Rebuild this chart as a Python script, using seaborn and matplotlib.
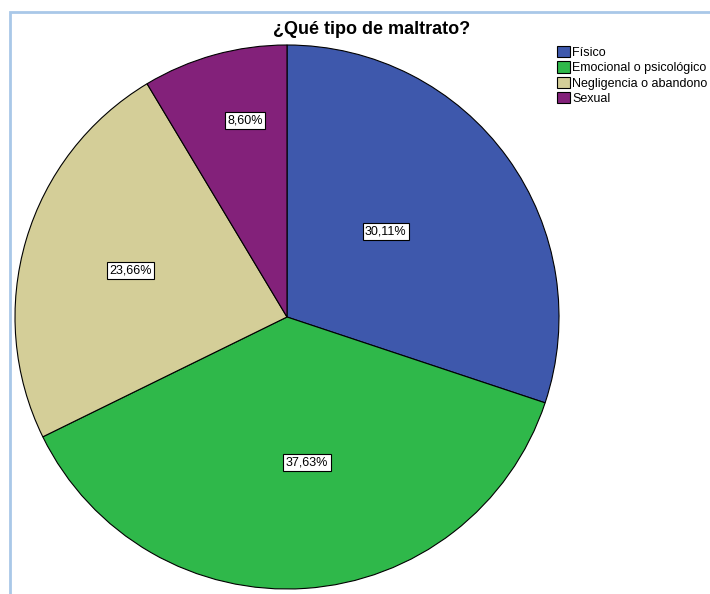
import matplotlib
matplotlib.use("Agg")
import matplotlib.pyplot as plt
import seaborn as sns
from matplotlib.patches import Rectangle, Patch
import numpy as np

# data
categorias = ["Físico", "Emocional o psicológico", "Negligencia o abandono", "Sexual"]
porcentajes = [30.11, 37.63, 23.66, 8.60]
etiquetas = ["30,11%", "37,63%", "23,66%", "8,60%"]
colores = ["#3E58AC", "#2FB84A", "#D4CE98", "#83217A"]

sns.set_style("white")
plt.rcParams["font.family"] = ["Liberation Sans", "DejaVu Sans"]
plt.rcParams["text.color"] = "black"

fig = plt.figure(figsize=(7.1, 5.94), dpi=100)

# light blue frame (left and top edges visible)
fig.patches.append(Rectangle((10 / 710, -0.1), 1.2, (594 - 12) / 594 + 0.1,
                             transform=fig.transFigure, fill=False,
                             edgecolor="#A9C8E8", linewidth=2))

ax = fig.add_axes([15 / 710, 5 / 594, 544 / 710, 544 / 594])
pal = sns.color_palette(colores)
wedges, _ = ax.pie(porcentajes, colors=pal, startangle=90, counterclock=False,
                   wedgeprops=dict(edgecolor="black", linewidth=0.8))
ax.set_xlim(-1, 1)
ax.set_ylim(-1, 1)
ax.set_aspect("auto")
ax.axis("off")

# label placement (radius fraction, angle shift in degrees) as in the original
dist = [0.48, 0.54, 0.60, 0.74]
shift = [5, 4, 0, -3.5]
for w, txt, d, s in zip(wedges, etiquetas, dist, shift):
    ang = np.deg2rad((w.theta1 + w.theta2) / 2 + s)
    ax.text(d * np.cos(ang), d * np.sin(ang), txt, ha="center", va="center",
            fontsize=9,
            bbox=dict(boxstyle="square,pad=0.2", facecolor="white",
                      edgecolor="black", linewidth=0.8))

fig.text(372 / 710, 1 - 30 / 594, "¿Qué tipo de maltrato?", ha="center",
         va="center", fontsize=13, fontweight="bold")

handles = [Patch(facecolor=c, edgecolor="black", linewidth=0.8) for c in colores]
fig.legend(handles, categorias, loc="upper left",
           bbox_to_anchor=(557 / 710, 1 - 46 / 594), frameon=False,
           fontsize=9, handlelength=1.0, handleheight=1.0, handletextpad=0.2,
           labelspacing=0.2, borderpad=0, borderaxespad=0)

fig.savefig("out.png", dpi=100)
